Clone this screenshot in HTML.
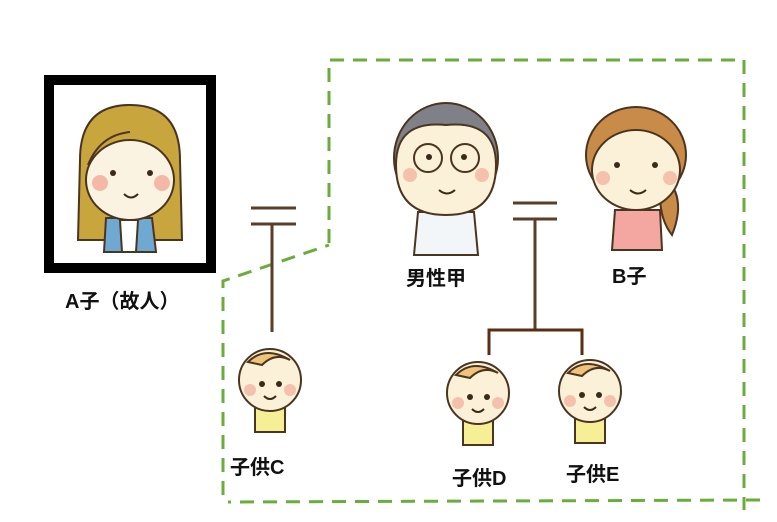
<!DOCTYPE html>
<html><head><meta charset="utf-8"><style>
body{margin:0;background:#fff}
svg{display:block}
text{font-family:"Liberation Sans","Noto Sans CJK JP",sans-serif;font-weight:bold;font-size:20px;fill:#111}
</style></head><body>
<svg width="777" height="522" viewBox="0 0 777 522" xmlns="http://www.w3.org/2000/svg">
<!-- dashed group -->
<path d="M329,243 L329,60 L744,60 L744,510 M760,500 L228,502 M223,495 L223,281 L329,245" fill="none" stroke="#6aad3d" stroke-width="3" stroke-dasharray="14,9"/>
<!-- A frame -->
<rect x="49" y="80" width="162" height="188" fill="#fff" stroke="#000" stroke-width="10"/>
<!-- A face -->
<g stroke="#4a3520" stroke-width="2">
<path d="M80,160 Q80,105 130,105 Q180,105 180,160 L182,240 L78,240 Z" fill="#c9a53e"/>
<path d="M106,218 L152,218 L156,252 L104,252 Z" fill="#6fa8d0"/>
<path d="M120,220 L138,220 L136,252 L122,252 Z" fill="#fff"/>
<ellipse cx="130" cy="180" rx="44" ry="40" fill="#fbf3e2"/>
<path d="M88,165 Q100,135 130,132" fill="none"/>
</g>
<circle cx="100" cy="183" r="8" fill="#f4b9a6"/><circle cx="162" cy="183" r="8" fill="#f4b9a6"/>
<circle cx="113" cy="173" r="3" fill="#3a2a1a"/><circle cx="150" cy="173" r="3" fill="#3a2a1a"/>
<path d="M124,194 Q131,201 138,194" fill="none" stroke="#3a2a1a" stroke-width="2"/>
<!-- man -->
<g stroke="#4a3520" stroke-width="2">
<path d="M418,212 L474,212 L478,255 L414,255 Z" fill="#f3f6f8"/>
<ellipse cx="446" cy="158" rx="52" ry="55" fill="#7f8088"/>
<path d="M396,165 Q396,120 446,125 Q496,120 496,165 Q496,215 446,215 Q396,215 396,165 Z" fill="#fbf0d8"/>
<circle cx="428" cy="158" r="14" fill="none"/><circle cx="465" cy="158" r="14" fill="none"/>
</g>
<circle cx="429" cy="157" r="3" fill="#3a2a1a"/><circle cx="464" cy="157" r="3" fill="#3a2a1a"/>
<circle cx="410" cy="175" r="7" fill="#f4c2ac"/><circle cx="482" cy="175" r="7" fill="#f4c2ac"/>
<path d="M439,190 Q447,197 455,190" fill="none" stroke="#3a2a1a" stroke-width="2"/>
<!-- woman B -->
<g stroke="#4a3520" stroke-width="2">
<path d="M615,210 L660,210 L662,250 L612,250 Z" fill="#f4a7a0"/>
<path d="M655,170 Q690,190 672,235 Q660,220 660,195 Z" fill="#c98b48"/>
<ellipse cx="636" cy="155" rx="50" ry="48" fill="#c98b48"/>
<ellipse cx="636" cy="170" rx="44" ry="40" fill="#fbf0d8"/>
</g>
<circle cx="617" cy="165" r="3" fill="#3a2a1a"/><circle cx="655" cy="165" r="3" fill="#3a2a1a"/>
<circle cx="603" cy="178" r="7" fill="#f4c2ac"/><circle cx="670" cy="178" r="7" fill="#f4c2ac"/>
<path d="M630,190 Q638,197 646,190" fill="none" stroke="#3a2a1a" stroke-width="2"/>
<!-- babies -->
<g id="baby">
<g stroke="#4a3520" stroke-width="2">
<path d="M255,395 L285,395 L285,432 L255,432 Z" fill="#f6ef95"/>
<circle cx="270" cy="380" r="31" fill="#fbf0d8"/>
<path d="M248,362 Q265,345 290,360 Q275,352 262,365 Z" fill="#f0c27a"/>
</g>
<circle cx="262" cy="384" r="3" fill="#3a2a1a"/><circle cx="279" cy="384" r="3" fill="#3a2a1a"/>
<circle cx="250" cy="390" r="6" fill="#f4c2ac"/><circle cx="290" cy="390" r="6" fill="#f4c2ac"/>
<path d="M264,396 Q270,402 276,396" fill="none" stroke="#3a2a1a" stroke-width="2"/>
</g>
<use href="#baby" x="208" y="13"/>
<use href="#baby" x="320" y="11"/>
<!-- lines -->
<g stroke="#5a3e28" stroke-width="3" fill="none">
<path d="M251,208 H296 M251,224 H296 M272,224 V332"/>
<path d="M513,203 H557 M513,219 H557 M535,219 V330"/>
<path d="M489,355 V330 H582 V355" stroke="#5a2e10"/>
</g>
<text x="65" y="308">A子（故人）</text>
<text x="406" y="285">男性甲</text>
<text x="612" y="283">B子</text>
<text x="230" y="474">子供C</text>
<text x="452" y="485">子供D</text>
<text x="566" y="481">子供E</text>
</svg>
</body></html>
